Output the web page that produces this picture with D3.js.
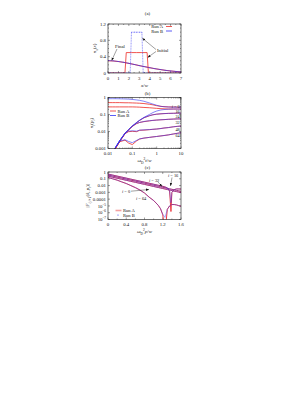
<!DOCTYPE html>
<html>
<head>
<meta charset="utf-8">
<script src="https://cdn.jsdelivr.net/npm/d3@7"></script>
<style>
  body { margin: 0; background: #fff; }
  svg text { font-family: "Liberation Serif", "DejaVu Serif", serif; fill: #111; }
</style>
</head>
<body>
<svg id="fig" width="307" height="398"></svg>
<script>
// ---------- panel (a): n_x(x) ----------
var aX = [0, 0.5, 1, 1.5, 2, 2.5, 3, 3.5, 4, 4.5, 5, 5.5, 6, 6.5, 7];
var aFinalA = [0.30, 0.295, 0.28, 0.26, 0.235, 0.21, 0.18, 0.155, 0.13, 0.105, 0.085, 0.065, 0.05, 0.037, 0.028];
var aFinalB = [0.305, 0.297, 0.282, 0.262, 0.237, 0.21, 0.182, 0.156, 0.13, 0.106, 0.085, 0.066, 0.05, 0.038, 0.028];
var aInitAX = [0, 0.5, 1, 1.5, 1.625, 1.75, 2.25, 2.75, 3.25, 3.75, 3.875, 4.5, 5, 5.5, 6, 6.5, 7];
var aInitAY = [0, 0, 0, 0, 0, 0.5, 0.5, 0.5, 0.5, 0.5, 0, 0, 0, 0, 0, 0, 0];
var aInitBX = [0, 0.25, 0.5, 0.75, 1, 1.25, 1.5, 1.75, 2, 2.125, 2.25, 2.5, 2.75, 3, 3.25, 3.375, 3.5, 3.75, 4, 4.25, 4.5, 4.75, 5, 5.25, 5.5, 5.75, 6, 6.25, 6.5, 6.75, 7];
var aInitBY = [0, 0, 0, 0, 0, 0, 0, 0, 0, 0, 1, 1, 1, 1, 1, 0, 0, 0, 0, 0, 0, 0, 0, 0, 0, 0, 0, 0, 0, 0, 0];
var aXTicks = [0, 1, 2, 3, 4, 5, 6, 7];
var aYTicks = [0, 0.4, 0.8, 1.2];
var aYLabels = ["0", "0.4", "0.8", "1.2"];

// ---------- panel (b): n_i(p_i) vs time ----------
var bT = [0.01, 0.015, 0.02, 0.03, 0.05, 0.07, 0.1, 0.15, 0.2, 0.3, 0.5, 0.7, 1, 1.5, 2, 3, 5, 7, 10];
var bSites = ["0", "16", "24", "32", "48", "64"];
var bRunA = [
  [0.5, 0.5, 0.5, 0.5, 0.49, 0.49, 0.48, 0.47, 0.46, 0.44, 0.40, 0.37, 0.33, 0.30, 0.29, 0.28, 0.275, 0.27, 0.27],
  [0.28, 0.28, 0.28, 0.28, 0.28, 0.28, 0.28, 0.275, 0.27, 0.26, 0.25, 0.24, 0.23, 0.22, 0.215, 0.21, 0.21, 0.21, 0.21],
  [0.0003, 0.0005, 0.001, 0.0026, 0.0075, 0.0125, 0.02, 0.033, 0.045, 0.064, 0.084, 0.096, 0.104, 0.11, 0.113, 0.116, 0.118, 0.12, 0.12],
  [0.0003, 0.0005, 0.001, 0.0026, 0.0075, 0.0125, 0.02, 0.029, 0.034, 0.038, 0.042, 0.045, 0.047, 0.049, 0.05, 0.052, 0.054, 0.055, 0.055],
  [0.0003, 0.0005, 0.001, 0.0026, 0.0075, 0.0098, 0.0102, 0.0098, 0.0118, 0.012, 0.0128, 0.0134, 0.014, 0.015, 0.016, 0.017, 0.019, 0.02, 0.021],
  [0.0003, 0.0005, 0.001, 0.0025, 0.0031, 0.0021, 0.0017, 0.0028, 0.0036, 0.0041, 0.0045, 0.0048, 0.0051, 0.0055, 0.0058, 0.0063, 0.0072, 0.0078, 0.0085]
];
var bRunB = [
  [0.85, 0.85, 0.85, 0.84, 0.82, 0.8, 0.77, 0.72, 0.68, 0.6, 0.48, 0.41, 0.35, 0.30, 0.285, 0.275, 0.27, 0.27, 0.27],
  [0.0003, 0.0006, 0.0011, 0.0028, 0.0079, 0.013, 0.021, 0.034, 0.046, 0.068, 0.10, 0.13, 0.16, 0.185, 0.195, 0.205, 0.21, 0.21, 0.21],
  [0.0003, 0.0006, 0.0011, 0.0028, 0.0079, 0.013, 0.021, 0.034, 0.046, 0.065, 0.085, 0.097, 0.105, 0.11, 0.113, 0.116, 0.118, 0.12, 0.12],
  [0.0003, 0.0006, 0.0011, 0.0028, 0.0079, 0.013, 0.021, 0.03, 0.034, 0.039, 0.043, 0.045, 0.047, 0.049, 0.05, 0.052, 0.054, 0.055, 0.055],
  [0.0003, 0.0006, 0.0011, 0.0028, 0.0079, 0.0105, 0.011, 0.0105, 0.012, 0.0125, 0.013, 0.0135, 0.014, 0.015, 0.016, 0.017, 0.019, 0.02, 0.021],
  [0.0003, 0.0006, 0.0011, 0.0027, 0.0033, 0.0026, 0.0022, 0.003, 0.0037, 0.0041, 0.0045, 0.0048, 0.0051, 0.0055, 0.0058, 0.0063, 0.0072, 0.0078, 0.0085]
];
var bXTicks = [0.01, 0.1, 1, 10];
var bXLabels = ["0.01", "0.1", "1", "10"];
var bYTicks = [0.001, 0.01, 0.1, 1];
var bYLabels = ["0.001", "0.01", "0.1", "1"];

// ---------- panel (c): |F| vs scaled momentum ----------
var cX = [0, 0.1, 0.2, 0.3, 0.4, 0.5, 0.6, 0.7, 0.8, 0.9, 1.0, 1.1, 1.15, 1.2, 1.25, 1.3, 1.35, 1.38, 1.4, 1.45, 1.5, 1.55, 1.6];
var cRunA = [
  [0.5, 0.355, 0.25, 0.178, 0.126, 0.089, 0.063, 0.045, 0.032, 0.0224, 0.0158, 0.0112, 0.0095, 0.0079, 0.0063, 0.0045, 0.0016, 0.0000015, 0.001, 0.0025, 0.0032, 0.0032, 0.0031],
  [0.355, 0.25, 0.178, 0.126, 0.089, 0.063, 0.045, 0.032, 0.0224, 0.0158, 0.0112, 0.0079, 0.0066, 0.0056, 0.0047, 0.004, 0.0033, 0.003, 0.0028, 0.0024, 0.002, 0.00166, 0.0014],
  [0.25, 0.17, 0.12, 0.085, 0.06, 0.042, 0.03, 0.021, 0.015, 0.0105, 0.0074, 0.0052, 0.0044, 0.0037, 0.0031, 0.0026, 0.0022, 0.002, 0.0018, 0.0015, 0.0013, 0.0011, 0.0009],
  [0.16, 0.1, 0.063, 0.035, 0.02, 0.01, 0.005, 0.0022, 0.0008, 0.0002, 0.000063, 0.0000126, 0.000004, 0.0000005, 1e-9, 0.0000032, 0.00001, 0.000014, 0.000016, 0.000016, 0.000014, 0.000011, 0.000009]
];
var cRunB = [
  [0.5, 0.355, 0.25, 0.178, 0.126, 0.089, 0.063, 0.045, 0.032, 0.0224, 0.0158, 0.0112, 0.0095, 0.0079, 0.0063, 0.0045, 0.0017, 0.00003, 0.001, 0.0025, 0.0032, 0.0032, 0.0031],
  [0.355, 0.25, 0.178, 0.126, 0.089, 0.063, 0.045, 0.032, 0.0224, 0.0158, 0.0112, 0.0079, 0.0066, 0.0056, 0.0047, 0.004, 0.0033, 0.003, 0.0028, 0.0024, 0.002, 0.00166, 0.0014],
  [0.25, 0.17, 0.12, 0.085, 0.06, 0.042, 0.03, 0.021, 0.015, 0.0105, 0.0074, 0.0052, 0.0044, 0.0037, 0.0031, 0.0026, 0.0022, 0.002, 0.0018, 0.0015, 0.0013, 0.0011, 0.0009],
  [0.16, 0.1, 0.063, 0.035, 0.02, 0.01, 0.005, 0.0022, 0.0008, 0.0002, 0.000063, 0.0000126, 0.000004, 0.0000006, 0.0000002, 0.0000032, 0.00001, 0.000014, 0.000016, 0.000016, 0.000014, 0.000011, 0.000009]
];
var cXTicks = [0, 0.4, 0.8, 1.2, 1.6];
var cXLabels = ["0", "0.4", "0.8", "1.2", "1.6"];
var cYTicks = [1e-7, 1e-6, 1e-5, 1e-4, 1e-3, 1e-2, 1e-1, 1];
var cYLabels = [["10", "−7"], ["10", "−6"], ["10", "−5"], "0.0001", "0.001", "0.01", "0.1", "1"];

var RED = "#ee2a24";
var BLUE = "#3434f4";

var svg = d3.select("#fig");
var defs = svg.append("defs");
defs.append("marker")
  .attr("id", "ah")
  .attr("viewBox", "0 0 10 10")
  .attr("refX", 10).attr("refY", 5)
  .attr("markerUnits", "userSpaceOnUse")
  .attr("markerWidth", 3).attr("markerHeight", 3)
  .attr("orient", "auto")
  .append("path").attr("d", "M0,1L10,5L0,9z").attr("fill", "#111");

var left = 108, right = 181;
var clipN = 0;

// label made of parts: [text, flags] with i=italic, b=subscript, p=superscript
function rich(t, parts) {
  parts.forEach(function(p) {
    var s = typeof p === "string" ? p : p[0];
    var k = typeof p === "string" ? "" : p[1];
    var ts = t.append("tspan").text(s);
    if (k.indexOf("i") >= 0) ts.attr("font-style", "italic");
    if (k.indexOf("b") >= 0) ts.attr("baseline-shift", "sub").attr("font-size", "0.7em");
    if (k.indexOf("p") >= 0) ts.attr("baseline-shift", "super").attr("font-size", "0.7em");
  });
  return t;
}

function panel(xs, ys, o) {
  var g = svg.append("g");
  var x0 = xs.range()[0], x1 = xs.range()[1];
  var yb = ys.range()[0], yt = ys.range()[1];
  var id = "clip" + (clipN++);
  defs.append("clipPath").attr("id", id).append("rect")
    .attr("x", x0).attr("y", yt).attr("width", x1 - x0).attr("height", yb - yt);

  var tk = g.append("g").attr("stroke", "#111").attr("stroke-width", 0.4);
  function xt(v, len) {
    var x = xs(v);
    tk.append("line").attr("x1", x).attr("x2", x).attr("y1", yb).attr("y2", yb - len);
    tk.append("line").attr("x1", x).attr("x2", x).attr("y1", yt).attr("y2", yt + len);
  }
  function yt_(v, len) {
    var y = ys(v);
    tk.append("line").attr("x1", x0).attr("x2", x0 + len).attr("y1", y).attr("y2", y);
    tk.append("line").attr("x1", x1).attr("x2", x1 - len).attr("y1", y).attr("y2", y);
  }
  (o.xMinor || []).forEach(function(v) { xt(v, 1); });
  (o.yMinor || []).forEach(function(v) { yt_(v, 1); });
  o.xTicks.forEach(function(v) { xt(v, 2); });
  o.yTicks.forEach(function(v) { yt_(v, 2); });

  o.xTicks.forEach(function(v, i) {
    g.append("text").attr("x", xs(v)).attr("y", yb + 6.5)
      .attr("text-anchor", "middle").attr("font-size", 4.8)
      .text(o.xLabels ? o.xLabels[i] : String(v));
  });
  o.yTicks.forEach(function(v, i) {
    var lab = o.yLabels[i];
    var t = g.append("text").attr("x", x0 - 2).attr("y", ys(v) + 1.7)
      .attr("text-anchor", "end").attr("font-size", 4.8);
    if (typeof lab === "string") t.text(lab);
    else rich(t, [lab[0], [lab[1], "p"]]);
  });

  var plot = g.append("g").attr("clip-path", "url(#" + id + ")");
  g.append("rect").attr("x", x0).attr("y", yt).attr("width", x1 - x0).attr("height", yb - yt)
    .attr("fill", "none").attr("stroke", "#111").attr("stroke-width", 0.6);

  rich(g.append("text").attr("x", (x0 + x1) / 2).attr("y", yb + 13.5)
    .attr("text-anchor", "middle").attr("font-size", 5), o.xTitle);
  rich(g.append("text")
    .attr("transform", "translate(" + o.yLabelX + "," + ((yb + yt) / 2) + ") rotate(-90)")
    .attr("text-anchor", "middle").attr("font-size", 5), o.yTitle);
  g.append("text").attr("x", (x0 + x1) / 2 + 3).attr("y", yt - o.tagGap)
    .attr("text-anchor", "middle").attr("font-size", 4.8).text(o.tag);
  return { g: g, plot: plot };
}

function drawLine(plot, xs, ys, xv, yv, color, w, dash, op) {
  var pts = xv.map(function(x, i) { return [x, yv[i]]; });
  var line = d3.line().x(function(d) { return xs(d[0]); }).y(function(d) { return ys(d[1]); });
  plot.append("path").attr("d", line(pts)).attr("fill", "none")
    .attr("stroke", color).attr("stroke-width", w)
    .attr("stroke-dasharray", dash || null)
    .attr("stroke-opacity", op || (color === BLUE ? 0.75 : 1));
  return pts;
}
function drawDots(plot, xs, ys, pts) {
  plot.append("g").selectAll("circle").data(pts).enter().append("circle")
    .attr("cx", function(d) { return xs(d[0]); })
    .attr("cy", function(d) { return ys(d[1]); })
    .attr("r", 0.45).attr("fill", BLUE);
}
function legend(g, x, y, items) {
  items.forEach(function(it, i) {
    var yy = y + i * 4.5;
    g.append("text").attr("x", it.textX).attr("y", yy + 1.6)
      .attr("text-anchor", it.anchor).attr("font-size", 4.6).text(it.name);
    if (it.kind === "dot") {
      g.append("circle").attr("cx", x + 2.5).attr("cy", yy).attr("r", 0.6).attr("fill", it.color);
    } else {
      g.append("line").attr("x1", x).attr("x2", x + 6).attr("y1", yy).attr("y2", yy)
        .attr("stroke", it.color).attr("stroke-width", it.w || 0.8);
    }
  });
}
function arrow(g, x1, y1, x2, y2) {
  g.append("line").attr("x1", x1).attr("y1", y1).attr("x2", x2).attr("y2", y2)
    .attr("stroke", "#111").attr("stroke-width", 0.4).attr("marker-end", "url(#ah)");
}

// ===== (a) =====
var xa = d3.scaleLinear().domain([0, 7]).range([left, right]);
var ya = d3.scaleLinear().domain([0, 1.2]).range([73, 24]);
var pa = panel(xa, ya, {
  xTicks: aXTicks, yTicks: aYTicks, yLabels: aYLabels,
  yMinor: [0.1, 0.2, 0.3, 0.5, 0.6, 0.7, 0.9, 1.0, 1.1],
  xMinor: [0.5, 1.5, 2.5, 3.5, 4.5, 5.5, 6.5],
  xTitle: [["x", "i"], "/", ["w", "i"]],
  yTitle: [["n", "i"], ["x", "bi"], "(", ["x", "i"], ")"], yLabelX: 96,
  tag: "(a)", tagGap: 9
});
drawLine(pa.plot, xa, ya, aInitAX, aInitAY, RED, 0.8);
drawLine(pa.plot, xa, ya, aX, aFinalA, RED, 0.9);
drawDots(pa.plot, xa, ya, drawLine(pa.plot, xa, ya, aInitBX, aInitBY, BLUE, 0.7, "1,0.6"));
drawDots(pa.plot, xa, ya, drawLine(pa.plot, xa, ya, aX, aFinalB, BLUE, 0.8));
legend(pa.g, 166, 26.5, [
  { name: "Run A", color: RED, textX: 163, anchor: "end" },
  { name: "Run B", color: BLUE, textX: 163, anchor: "end" }
]);
pa.g.append("text").attr("x", 115).attr("y", 47.5).attr("font-size", 4.8).text("Final");
arrow(pa.g, 117, 49, xa(0.35), ya(0.305));
pa.g.append("text").attr("x", 157).attr("y", 52).attr("font-size", 4.8).text("Initial");
arrow(pa.g, 156, 49.5, xa(3.3), ya(0.85));
arrow(pa.g, 156, 51.5, xa(3.8), ya(0.38));

// ===== (b) =====
var xb = d3.scaleLog().domain([0.01, 10]).range([left, right]);
var yb = d3.scaleLog().domain([0.001, 1]).range([148.5, 97.5]);
var bMinorX = [], bMinorY = [];
[0.01, 0.1, 1].forEach(function(d) { for (var k = 2; k < 10; k++) bMinorX.push(d * k); });
[0.001, 0.01, 0.1].forEach(function(d) { for (var k = 2; k < 10; k++) bMinorY.push(d * k); });
var pb = panel(xb, yb, {
  xTicks: bXTicks, xLabels: bXLabels, yTicks: bYTicks, yLabels: bYLabels,
  xMinor: bMinorX, yMinor: bMinorY,
  xTitle: [["ω", "i"], ["D", "b"], ["2", "p"], ["t", "i"], "/", ["w", "i"]],
  yTitle: [["n", "i"], ["i", "bi"], "(", ["p", "i"], ["i", "bi"], ")"], yLabelX: 93,
  tag: "(b)", tagGap: 3
});
bRunA.forEach(function(v) { drawLine(pb.plot, xb, yb, bT, v, RED, 0.8); });
bRunB.forEach(function(v) { drawLine(pb.plot, xb, yb, bT, v, BLUE, 0.8); });
legend(pb.g, 110, 111, [
  { name: "Run A", color: RED, textX: 117.5, anchor: "start" },
  { name: "Run B", color: BLUE, textX: 117.5, anchor: "start" }
]);
var bLabY = [107.5, 113, 118, 123.5, 131, 137];
bSites.forEach(function(s, i) {
  var t = pb.g.append("text").attr("x", right - 1.2).attr("y", bLabY[i])
    .attr("text-anchor", "end").attr("font-size", 4.4);
  if (i === 0) rich(t, [["i", "i"], " = " + s]);
  else t.text(s);
});

// ===== (c) =====
var xc = d3.scaleLinear().domain([0, 1.6]).range([left, right]);
var yc = d3.scaleLog().domain([1e-7, 1]).range([219.5, 172]);
var pc = panel(xc, yc, {
  xTicks: cXTicks, xLabels: cXLabels, yTicks: cYTicks, yLabels: cYLabels,
  xMinor: [0.2, 0.6, 1.0, 1.4],
  xTitle: [["ω", "i"], ["D", "b"], ["2", "p"], ["p", "i"], "/", ["w", "i"]],
  yTitle: ["|", ["F", "i"], ["i,i+1", "bi"], "(", ["k", "i"], ", ", ["p", "i"], ["i", "bi"], ")|"], yLabelX: 89,
  tag: "(c)", tagGap: 3
});
cRunA.forEach(function(v) { drawLine(pc.plot, xc, yc, cX, v, "#ec3c44", 1.0); });
cRunB.forEach(function(v) { drawLine(pc.plot, xc, yc, cX, v, BLUE, 0.8, "0.7,0.4", 0.85); });
legend(pc.g, 115.5, 210.5, [
  { name: "Run A", color: "#f4a0a0", w: 1.6, textX: 123, anchor: "start" },
  { name: "Run B", color: BLUE, kind: "dot", textX: 123, anchor: "start" }
]);
function cLabel(x, y, s) {
  rich(pc.g.append("text").attr("x", x).attr("y", y).attr("font-size", 4.4), [["i", "i"], " = " + s]);
}
cLabel(168, 176.5, "16");
arrow(pc.g, 172, 177.5, 170.5, 186);
cLabel(149, 181.5, "32");
arrow(pc.g, 158, 182, 162, 186.5);
cLabel(122, 192.5, "0");
arrow(pc.g, 131, 191.2, 149, 189.5);
cLabel(136, 199.5, "64");
</script>
</body>
</html>
